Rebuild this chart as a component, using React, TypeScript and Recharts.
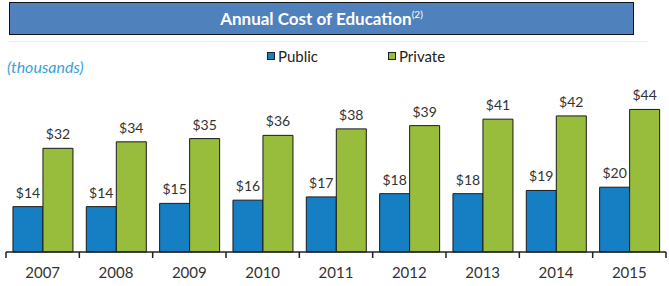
import React from "react";
import { BarChart, Bar, XAxis, YAxis, LabelList } from "recharts";

const years = ["2007", "2008", "2009", "2010", "2011", "2012", "2013", "2014", "2015"];
const publicCost = [14, 14, 15, 16, 17, 18, 18, 19, 20];
const privateCost = [32, 34, 35, 36, 38, 39, 41, 42, 44];

const data = years.map((year, i) => ({
  year,
  public: publicCost[i],
  private: privateCost[i],
}));

const W = 669;
const H = 286;
const M = { top: 90, right: 3, left: 6, bottom: 0 };
const band = (W - M.left - M.right) / years.length;

const BLUE = "#167fc3";
const GREEN = "#98bd3c";
const FONT = "Lato, 'Open Sans', sans-serif";

function YearTick(props: any) {
  const { x, y, payload, index } = props;
  return (
    <g>
      <line x1={x - band / 2} x2={x - band / 2} y1={y - 8} y2={y - 2} stroke="#222" strokeWidth={1.5} />
      {index === years.length - 1 && (
        <line x1={x + band / 2} x2={x + band / 2} y1={y - 8} y2={y - 2} stroke="#222" strokeWidth={1.5} />
      )}
      <text x={x} y={y + 18} textAnchor="middle" fill="#333" fontSize={15} fontFamily={FONT}>
        {payload.value}
      </text>
    </g>
  );
}

const legendItems = [
  { name: "Public", color: BLUE },
  { name: "Private", color: GREEN },
];

export default function App() {
  return (
    <div style={{ position: "absolute", left: 0, top: 0, width: W, height: H, background: "#fff" }}>
      <div
        style={{
          position: "absolute",
          left: 9,
          top: 2,
          width: 623,
          height: 31,
          background: "#4f81bd",
          border: "1.5px solid #111",
          color: "#fff",
          fontFamily: FONT,
          fontWeight: 700,
          fontSize: 17,
          display: "flex",
          alignItems: "center",
          justifyContent: "center",
        }}
      >
        <span>
          Annual Cost of Education
          <sup style={{ fontSize: 10, fontWeight: 400 }}>(2)</sup>
        </span>
      </div>
      <div
        style={{
          position: "absolute",
          left: 8,
          top: 41,
          width: 640,
          height: 1,
          background: "#ececec",
        }}
      />
      <div
        style={{
          position: "absolute",
          left: 7,
          top: 57,
          fontFamily: FONT,
          fontStyle: "italic",
          fontSize: 16,
          color: "#3a9fd8",
        }}
      >
        (thousands)
      </div>
      <div
        style={{
          position: "absolute",
          left: 267,
          top: 47,
          display: "flex",
          fontFamily: FONT,
          fontSize: 15,
          color: "#222",
        }}
      >
        {legendItems.map((it) => (
          <div key={it.name} style={{ display: "flex", alignItems: "center", width: 121 }}>
            <span
              style={{
                width: 6,
                height: 6,
                background: it.color,
                border: "1px solid #222",
                marginRight: 3,
              }}
            />
            {it.name}
          </div>
        ))}
      </div>
      <BarChart
        width={W}
        height={H}
        data={data}
        margin={M}
        barCategoryGap="9.5%"
        barGap={0}
      >
        <XAxis
          dataKey="year"
          axisLine={{ stroke: "#222", strokeWidth: 1.5 }}
          tickLine={false}
          height={34}
          interval={0}
          tick={<YearTick />}
        />
        <YAxis hide domain={[0, 50]} />
        <Bar dataKey="public" name="Public" fill={BLUE} stroke="#1a1a1a" strokeWidth={1} isAnimationActive={false}>
          <LabelList
            dataKey="public"
            position="top"
            offset={9}
            formatter={(v: any) => `$${v}`}
            style={{ fill: "#333", fontSize: 14, fontFamily: FONT }}
          />
        </Bar>
        <Bar dataKey="private" name="Private" fill={GREEN} stroke="#1a1a1a" strokeWidth={1} isAnimationActive={false}>
          <LabelList
            dataKey="private"
            position="top"
            offset={9}
            formatter={(v: any) => `$${v}`}
            style={{ fill: "#333", fontSize: 14, fontFamily: FONT }}
          />
        </Bar>
      </BarChart>
    </div>
  );
}
